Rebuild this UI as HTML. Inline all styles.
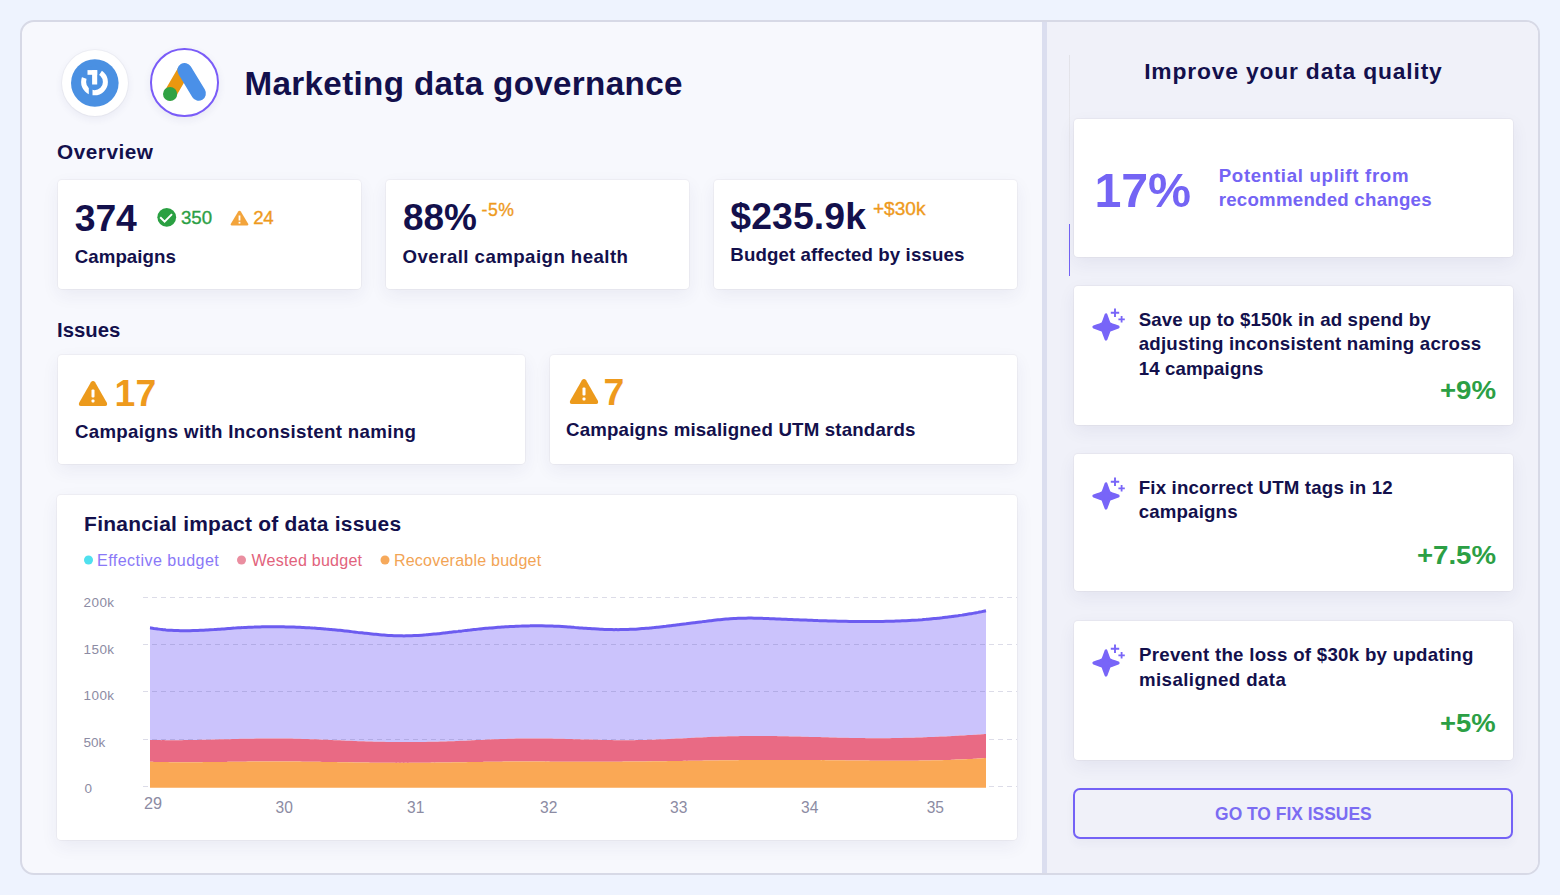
<!DOCTYPE html>
<html><head><meta charset="utf-8"><style>
html,body{margin:0;padding:0;}
body{width:1560px;height:895px;background:#eef3fe;position:relative;overflow:hidden;font-family:"Liberation Sans",sans-serif;}
.abs{position:absolute;}
.t{position:absolute;line-height:1;white-space:nowrap;}
.card{position:absolute;background:#fff;border-radius:4px;box-shadow:0 0 0 1px rgba(90,80,60,0.045),0 6px 18px rgba(40,40,110,0.065);}
</style></head><body>
<div class="abs" style="left:20px;top:20px;width:1516px;height:851px;border:2px solid #d7d9e6;border-radius:14px;background:#f7f8fd;overflow:hidden">
  <div class="abs" style="left:1025px;top:0;width:491px;height:851px;background:#f0f1f9"></div>
  <div class="abs" style="left:1020.4px;top:0;width:4.4px;height:851px;background:#dbdeef"></div>
</div>
<!-- logos -->
<div class="abs" style="left:62px;top:50px;width:66px;height:66px;border-radius:50%;background:#fff;box-shadow:0 0 0 1px rgba(0,0,0,0.03),0 3px 8px rgba(40,40,110,0.07)"></div>
<svg class="abs" style="left:71px;top:59px" width="48" height="48" viewBox="0 0 48 48">
  <circle cx="23.8" cy="24" r="23.8" fill="#4a90e2"/>
  <circle cx="23.5" cy="22.9" r="10.9" fill="none" stroke="#fff" stroke-width="5"/>
  <path d="M23.5,22.8 L8.46,17.33 A16,16 0 0 1 32.45,9.54 Z" fill="#4a90e2"/>
  <rect x="17.8" y="24" width="3.7" height="16" fill="#4a90e2"/>
  <rect x="16.5" y="11.1" width="9.7" height="4.7" fill="#fff"/>
  <rect x="21.1" y="11.1" width="5.1" height="14.4" fill="#fff"/>
</svg>
<div class="abs" style="left:150px;top:48px;width:64.5px;height:64.5px;border-radius:50%;background:#fff;border:2.3px solid #7a5cf8;box-shadow:0 3px 8px rgba(40,40,110,0.07)"></div>
<svg class="abs" style="left:150px;top:48px" width="69" height="69" viewBox="0 0 69 69">
  <line x1="33.5" y1="23" x2="20.1" y2="46" stroke="#ea9710" stroke-width="12.5" stroke-linecap="round"/>
  <line x1="34.6" y1="22.3" x2="48.6" y2="45.4" stroke="#4a90e8" stroke-width="14.6" stroke-linecap="round"/>
  <circle cx="20.1" cy="46" r="7.1" fill="#30a243"/>
</svg>
<!-- overview cards -->
<div class="card" style="left:58px;top:180px;width:303px;height:109px"></div>
<div class="card" style="left:386px;top:180px;width:303px;height:109px"></div>
<div class="card" style="left:714px;top:180px;width:303px;height:109px"></div>
<svg class="abs" style="left:156px;top:207px" width="21" height="21" viewBox="0 0 21 21">
  <circle cx="10.75" cy="10.3" r="9.4" fill="#2aa042"/>
  <path d="M4.2,10.2 L8.6,14.6 L16,7.1" fill="none" stroke="#fff" stroke-width="2"/>
</svg>
<svg class="abs" style="left:230px;top:210px" width="19" height="16" viewBox="0 0 19 16">
  <path d="M9.5,0.8 Q10.3,0.8 10.8,1.6 L18.3,14 Q18.7,15.3 17.4,15.5 L1.6,15.5 Q0.3,15.3 0.7,14 L8.2,1.6 Q8.7,0.8 9.5,0.8Z" fill="#f3a43b"/>
  <rect x="8.6" y="5.5" width="1.8" height="5" fill="#fff"/><rect x="8.6" y="11.8" width="1.8" height="1.8" fill="#fff"/>
</svg>
<!-- issue cards -->
<div class="card" style="left:58px;top:355px;width:467px;height:109px"></div>
<div class="card" style="left:550px;top:355px;width:467px;height:109px"></div>
<svg class="abs" style="left:78px;top:380px" width="30" height="27" viewBox="0 0 30 27">
  <path d="M15,1 Q16.3,1 17.1,2.3 L29,23 Q29.6,25.8 27.2,26 L2.8,26 Q0.4,25.8 1,23 L12.9,2.3 Q13.7,1 15,1Z" fill="#ec9a1c"/>
  <rect x="13.5" y="9.5" width="3" height="8" rx="1" fill="#fff"/><rect x="13.5" y="19.5" width="3" height="3" rx="1" fill="#fff"/>
</svg>
<svg class="abs" style="left:569px;top:378px" width="30" height="27" viewBox="0 0 30 27">
  <path d="M15,1 Q16.3,1 17.1,2.3 L29,23 Q29.6,25.8 27.2,26 L2.8,26 Q0.4,25.8 1,23 L12.9,2.3 Q13.7,1 15,1Z" fill="#ec9a1c"/>
  <rect x="13.5" y="9.5" width="3" height="8" rx="1" fill="#fff"/><rect x="13.5" y="19.5" width="3" height="3" rx="1" fill="#fff"/>
</svg>
<!-- chart card -->
<div class="card" style="left:57px;top:495px;width:960px;height:345px"></div>
<svg class="abs" style="left:0;top:0" width="1560" height="895" viewBox="0 0 1560 895">
  <circle cx="88.5" cy="560" r="4.5" fill="#4fe0ee"/>
  <circle cx="241.5" cy="560" r="4.5" fill="#ea8ea0"/>
  <circle cx="385" cy="560" r="4.5" fill="#f6a95b"/>
  <path d="M150.0,627.73 C150.7,627.8 152.7,628.2 154.0,628.43 C155.3,628.6 156.7,628.8 158.0,629.03 C159.3,629.2 160.7,629.4 162.0,629.52 C163.3,629.7 164.7,629.8 166.0,629.92 C167.3,630.0 168.7,630.1 170.0,630.23 C171.3,630.3 172.7,630.4 174.0,630.46 C175.3,630.5 176.7,630.6 178.0,630.61 C179.3,630.6 180.7,630.7 182.0,630.7 C183.3,630.7 184.7,630.7 186.0,630.71 C187.3,630.7 188.7,630.7 190.0,630.67 C191.3,630.6 192.7,630.6 194.0,630.58 C195.3,630.5 196.7,630.5 198.0,630.44 C199.3,630.4 200.7,630.3 202.0,630.26 C203.3,630.2 204.7,630.1 206.0,630.05 C207.3,630.0 208.7,629.9 210.0,629.8 C211.3,629.7 212.7,629.6 214.0,629.54 C215.3,629.4 216.7,629.4 218.0,629.26 C219.3,629.2 220.7,629.1 222.0,628.98 C223.3,628.9 224.7,628.8 226.0,628.69 C227.3,628.6 228.7,628.5 230.0,628.4 C231.3,628.3 232.7,628.2 234.0,628.12 C235.3,628.0 236.7,627.9 238.0,627.86 C239.3,627.8 240.7,627.7 242.0,627.62 C243.3,627.5 244.7,627.5 246.0,627.41 C247.3,627.3 248.7,627.3 250.0,627.23 C251.3,627.2 252.7,627.1 254.0,627.07 C255.3,627.0 256.7,627.0 258.0,626.95 C259.3,626.9 260.7,626.9 262.0,626.86 C263.3,626.8 264.7,626.8 266.0,626.79 C267.3,626.8 268.7,626.8 270.0,626.75 C271.3,626.7 272.7,626.7 274.0,626.74 C275.3,626.7 276.7,626.7 278.0,626.76 C279.3,626.8 280.7,626.8 282.0,626.81 C283.3,626.8 284.7,626.9 286.0,626.88 C287.3,626.9 288.7,626.9 290.0,626.98 C291.3,627.0 292.7,627.1 294.0,627.11 C295.3,627.2 296.7,627.2 298.0,627.26 C299.3,627.3 300.7,627.4 302.0,627.44 C303.3,627.5 304.7,627.6 306.0,627.64 C307.3,627.7 308.7,627.8 310.0,627.87 C311.3,628.0 312.7,628.0 314.0,628.12 C315.3,628.2 316.7,628.3 318.0,628.4 C319.3,628.5 320.7,628.6 322.0,628.7 C323.3,628.8 324.7,628.9 326.0,629.03 C327.3,629.1 328.7,629.3 330.0,629.38 C331.3,629.5 332.7,629.6 334.0,629.75 C335.3,629.9 336.7,630.0 338.0,630.14 C339.3,630.3 340.7,630.4 342.0,630.56 C343.3,630.7 344.7,630.9 346.0,631.0 C347.3,631.1 348.7,631.3 350.0,631.45 C351.3,631.6 352.7,631.8 354.0,631.92 C355.3,632.1 356.7,632.2 358.0,632.39 C359.3,632.5 360.7,632.7 362.0,632.85 C363.3,633.0 364.7,633.2 366.0,633.3 C367.3,633.4 368.7,633.6 370.0,633.74 C371.3,633.9 372.7,634.0 374.0,634.16 C375.3,634.3 376.7,634.4 378.0,634.54 C379.3,634.7 380.7,634.8 382.0,634.89 C383.3,635.0 384.7,635.1 386.0,635.19 C387.3,635.3 388.7,635.4 390.0,635.45 C391.3,635.5 392.7,635.6 394.0,635.64 C395.3,635.7 396.7,635.7 398.0,635.78 C399.3,635.8 400.7,635.8 402.0,635.85 C403.3,635.9 404.7,635.9 406.0,635.84 C407.3,635.8 408.7,635.8 410.0,635.76 C411.3,635.7 412.7,635.7 414.0,635.61 C415.3,635.6 416.7,635.5 418.0,635.41 C419.3,635.3 420.7,635.2 422.0,635.15 C423.3,635.1 424.7,634.9 426.0,634.84 C427.3,634.7 428.7,634.6 430.0,634.5 C431.3,634.4 432.7,634.2 434.0,634.11 C435.3,634.0 436.7,633.8 438.0,633.7 C439.3,633.6 440.7,633.4 442.0,633.26 C443.3,633.1 444.7,633.0 446.0,632.8 C447.3,632.6 448.7,632.5 450.0,632.33 C451.3,632.2 452.7,632.0 454.0,631.85 C455.3,631.7 456.7,631.5 458.0,631.37 C459.3,631.2 460.7,631.0 462.0,630.89 C463.3,630.7 464.7,630.6 466.0,630.43 C467.3,630.3 468.7,630.1 470.0,629.98 C471.3,629.8 472.7,629.7 474.0,629.54 C475.3,629.4 476.7,629.3 478.0,629.13 C479.3,629.0 480.7,628.9 482.0,628.73 C483.3,628.6 484.7,628.5 486.0,628.35 C487.3,628.2 488.7,628.1 490.0,628.0 C491.3,627.9 492.7,627.8 494.0,627.67 C495.3,627.6 496.7,627.5 498.0,627.36 C499.3,627.3 500.7,627.2 502.0,627.07 C503.3,627.0 504.7,626.9 506.0,626.81 C507.3,626.7 508.7,626.7 510.0,626.58 C511.3,626.5 512.7,626.4 514.0,626.38 C515.3,626.3 516.7,626.3 518.0,626.21 C519.3,626.2 520.7,626.1 522.0,626.06 C523.3,626.0 524.7,626.0 526.0,625.95 C527.3,625.9 528.7,625.9 530.0,625.87 C531.3,625.8 532.7,625.8 534.0,625.82 C535.3,625.8 536.7,625.8 538.0,625.81 C539.3,625.8 540.7,625.8 542.0,625.84 C543.3,625.9 544.7,625.9 546.0,625.9 C547.3,625.9 548.7,626.0 550.0,626.0 C551.3,626.0 552.7,626.1 554.0,626.14 C555.3,626.2 556.7,626.3 558.0,626.32 C559.3,626.4 560.7,626.5 562.0,626.54 C563.3,626.6 564.7,626.7 566.0,626.79 C567.3,626.9 568.7,627.0 570.0,627.07 C571.3,627.2 572.7,627.3 574.0,627.37 C575.3,627.5 576.7,627.6 578.0,627.67 C579.3,627.8 580.7,627.9 582.0,627.98 C583.3,628.1 584.7,628.2 586.0,628.29 C587.3,628.4 588.7,628.5 590.0,628.58 C591.3,628.7 592.7,628.8 594.0,628.85 C595.3,628.9 596.7,629.0 598.0,629.09 C599.3,629.2 600.7,629.2 602.0,629.3 C603.3,629.4 604.7,629.4 606.0,629.46 C607.3,629.5 608.7,629.5 610.0,629.57 C611.3,629.6 612.7,629.6 614.0,629.63 C615.3,629.6 616.7,629.6 618.0,629.63 C619.3,629.6 620.7,629.6 622.0,629.58 C623.3,629.6 624.7,629.5 626.0,629.48 C627.3,629.4 628.7,629.4 630.0,629.33 C631.3,629.3 632.7,629.2 634.0,629.13 C635.3,629.1 636.7,629.0 638.0,628.89 C639.3,628.8 640.7,628.7 642.0,628.61 C643.3,628.5 644.7,628.4 646.0,628.3 C647.3,628.2 648.7,628.1 650.0,627.95 C651.3,627.8 652.7,627.7 654.0,627.57 C655.3,627.4 656.7,627.3 658.0,627.17 C659.3,627.0 660.7,626.9 662.0,626.73 C663.3,626.6 664.7,626.4 666.0,626.28 C667.3,626.1 668.7,626.0 670.0,625.8 C671.3,625.6 672.7,625.5 674.0,625.31 C675.3,625.1 676.7,625.0 678.0,624.81 C679.3,624.6 680.7,624.5 682.0,624.29 C683.3,624.1 684.7,623.9 686.0,623.76 C687.3,623.6 688.7,623.4 690.0,623.23 C691.3,623.1 692.7,622.9 694.0,622.71 C695.3,622.5 696.7,622.4 698.0,622.19 C699.3,622.0 700.7,621.8 702.0,621.68 C703.3,621.5 704.7,621.3 706.0,621.18 C707.3,621.0 708.7,620.9 710.0,620.71 C711.3,620.6 712.7,620.4 714.0,620.26 C715.3,620.1 716.7,620.0 718.0,619.84 C719.3,619.7 720.7,619.6 722.0,619.45 C723.3,619.3 724.7,619.2 726.0,619.11 C727.3,619.0 728.7,618.9 730.0,618.81 C731.3,618.7 732.7,618.6 734.0,618.55 C735.3,618.5 736.7,618.4 738.0,618.35 C739.3,618.3 740.7,618.2 742.0,618.21 C743.3,618.2 744.7,618.1 746.0,618.13 C747.3,618.1 748.7,618.1 750.0,618.12 C751.3,618.1 752.7,618.1 754.0,618.15 C755.3,618.2 756.7,618.2 758.0,618.23 C759.3,618.3 760.7,618.3 762.0,618.34 C763.3,618.4 764.7,618.4 766.0,618.48 C767.3,618.5 768.7,618.6 770.0,618.64 C771.3,618.7 772.7,618.7 774.0,618.8 C775.3,618.9 776.7,618.9 778.0,618.97 C779.3,619.0 780.7,619.1 782.0,619.13 C783.3,619.2 784.7,619.2 786.0,619.3 C787.3,619.4 788.7,619.4 790.0,619.47 C791.3,619.5 792.7,619.6 794.0,619.63 C795.3,619.7 796.7,619.7 798.0,619.8 C799.3,619.9 800.7,619.9 802.0,619.96 C803.3,620.0 804.7,620.1 806.0,620.12 C807.3,620.2 808.7,620.2 810.0,620.27 C811.3,620.3 812.7,620.4 814.0,620.42 C815.3,620.5 816.7,620.5 818.0,620.57 C819.3,620.6 820.7,620.7 822.0,620.7 C823.3,620.7 824.7,620.8 826.0,620.83 C827.3,620.9 828.7,620.9 830.0,620.96 C831.3,621.0 832.7,621.0 834.0,621.07 C835.3,621.1 836.7,621.1 838.0,621.17 C839.3,621.2 840.7,621.2 842.0,621.26 C843.3,621.3 844.7,621.3 846.0,621.34 C847.3,621.4 848.7,621.4 850.0,621.41 C851.3,621.4 852.7,621.5 854.0,621.47 C855.3,621.5 856.7,621.5 858.0,621.51 C859.3,621.5 860.7,621.5 862.0,621.53 C863.3,621.5 864.7,621.5 866.0,621.54 C867.3,621.5 868.7,621.5 870.0,621.54 C871.3,621.5 872.7,621.5 874.0,621.52 C875.3,621.5 876.7,621.5 878.0,621.48 C879.3,621.5 880.7,621.4 882.0,621.42 C883.3,621.4 884.7,621.4 886.0,621.34 C887.3,621.3 888.7,621.3 890.0,621.24 C891.3,621.2 892.7,621.2 894.0,621.13 C895.3,621.1 896.7,621.0 898.0,620.98 C899.3,620.9 900.7,620.9 902.0,620.82 C903.3,620.8 904.7,620.7 906.0,620.63 C907.3,620.6 908.7,620.5 910.0,620.42 C911.3,620.3 912.7,620.3 914.0,620.19 C915.3,620.1 916.7,620.0 918.0,619.93 C919.3,619.8 920.7,619.7 922.0,619.64 C923.3,619.5 924.7,619.4 926.0,619.32 C927.3,619.2 928.7,619.1 930.0,618.98 C931.3,618.9 932.7,618.7 934.0,618.61 C935.3,618.5 936.7,618.3 938.0,618.2 C939.3,618.1 940.7,617.9 942.0,617.77 C943.3,617.6 944.7,617.5 946.0,617.31 C947.3,617.1 948.7,617.0 950.0,616.81 C951.3,616.6 952.7,616.5 954.0,616.28 C955.3,616.1 956.7,615.9 958.0,615.72 C959.3,615.5 960.7,615.3 962.0,615.12 C963.3,614.9 964.7,614.7 966.0,614.49 C967.3,614.3 968.7,614.1 970.0,613.82 C971.3,613.6 972.7,613.4 974.0,613.11 C975.3,612.9 976.7,612.6 978.0,612.37 C979.3,612.1 980.7,611.9 982.0,611.59 C983.3,611.3 985.3,610.9 986.0,610.76 L986.0,734.05 C985.3,734.1 983.3,734.2 982.0,734.31 C980.7,734.4 979.3,734.5 978.0,734.57 C976.7,734.7 975.3,734.7 974.0,734.82 C972.7,734.9 971.3,735.0 970.0,735.06 C968.7,735.1 967.3,735.2 966.0,735.3 C964.7,735.4 963.3,735.5 962.0,735.53 C960.7,735.6 959.3,735.7 958.0,735.76 C956.7,735.8 955.3,735.9 954.0,735.97 C952.7,736.0 951.3,736.1 950.0,736.18 C948.7,736.2 947.3,736.3 946.0,736.38 C944.7,736.4 943.3,736.5 942.0,736.57 C940.7,736.6 939.3,736.7 938.0,736.76 C936.7,736.8 935.3,736.9 934.0,736.93 C932.7,737.0 931.3,737.0 930.0,737.09 C928.7,737.1 927.3,737.2 926.0,737.25 C924.7,737.3 923.3,737.3 922.0,737.39 C920.7,737.4 919.3,737.5 918.0,737.53 C916.7,737.6 915.3,737.6 914.0,737.65 C912.7,737.7 911.3,737.7 910.0,737.76 C908.7,737.8 907.3,737.8 906.0,737.86 C904.7,737.9 903.3,737.9 902.0,737.95 C900.7,738.0 899.3,738.0 898.0,738.03 C896.7,738.1 895.3,738.1 894.0,738.09 C892.7,738.1 891.3,738.1 890.0,738.14 C888.7,738.2 887.3,738.2 886.0,738.18 C884.7,738.2 883.3,738.2 882.0,738.2 C880.7,738.2 879.3,738.2 878.0,738.21 C876.7,738.2 875.3,738.2 874.0,738.21 C872.7,738.2 871.3,738.2 870.0,738.19 C868.7,738.2 867.3,738.2 866.0,738.16 C864.7,738.1 863.3,738.1 862.0,738.11 C860.7,738.1 859.3,738.1 858.0,738.06 C856.7,738.0 855.3,738.0 854.0,737.99 C852.7,738.0 851.3,737.9 850.0,737.92 C848.7,737.9 847.3,737.9 846.0,737.83 C844.7,737.8 843.3,737.8 842.0,737.74 C840.7,737.7 839.3,737.7 838.0,737.65 C836.7,737.6 835.3,737.6 834.0,737.55 C832.7,737.5 831.3,737.5 830.0,737.44 C828.7,737.4 827.3,737.4 826.0,737.33 C824.7,737.3 823.3,737.3 822.0,737.22 C820.7,737.2 819.3,737.1 818.0,737.11 C816.7,737.1 815.3,737.0 814.0,737.0 C812.7,737.0 811.3,736.9 810.0,736.89 C808.7,736.9 807.3,736.8 806.0,736.78 C804.7,736.7 803.3,736.7 802.0,736.68 C800.7,736.6 799.3,736.6 798.0,736.57 C796.7,736.5 795.3,736.5 794.0,736.48 C792.7,736.5 791.3,736.4 790.0,736.39 C788.7,736.4 787.3,736.3 786.0,736.31 C784.7,736.3 783.3,736.3 782.0,736.23 C780.7,736.2 779.3,736.2 778.0,736.17 C776.7,736.1 775.3,736.1 774.0,736.11 C772.7,736.1 771.3,736.1 770.0,736.06 C768.7,736.0 767.3,736.0 766.0,736.03 C764.7,736.0 763.3,736.0 762.0,736.0 C760.7,736.0 759.3,736.0 758.0,735.99 C756.7,736.0 755.3,736.0 754.0,735.99 C752.7,736.0 751.3,736.0 750.0,736.01 C748.7,736.0 747.3,736.0 746.0,736.04 C744.7,736.1 743.3,736.1 742.0,736.08 C740.7,736.1 739.3,736.1 738.0,736.14 C736.7,736.2 735.3,736.2 734.0,736.22 C732.7,736.2 731.3,736.3 730.0,736.32 C728.7,736.4 727.3,736.4 726.0,736.43 C724.7,736.5 723.3,736.5 722.0,736.56 C720.7,736.6 719.3,736.7 718.0,736.71 C716.7,736.8 715.3,736.8 714.0,736.87 C712.7,736.9 711.3,737.0 710.0,737.04 C708.7,737.1 707.3,737.2 706.0,737.22 C704.7,737.3 703.3,737.3 702.0,737.41 C700.7,737.5 699.3,737.5 698.0,737.6 C696.7,737.7 695.3,737.7 694.0,737.8 C692.7,737.9 691.3,737.9 690.0,738.01 C688.7,738.1 687.3,738.1 686.0,738.21 C684.7,738.3 683.3,738.3 682.0,738.41 C680.7,738.5 679.3,738.5 678.0,738.61 C676.7,738.7 675.3,738.7 674.0,738.81 C672.7,738.9 671.3,738.9 670.0,739.0 C668.7,739.1 667.3,739.1 666.0,739.18 C664.7,739.2 663.3,739.3 662.0,739.36 C660.7,739.4 659.3,739.5 658.0,739.52 C656.7,739.6 655.3,739.6 654.0,739.67 C652.7,739.7 651.3,739.8 650.0,739.8 C648.7,739.8 647.3,739.9 646.0,739.92 C644.7,740.0 643.3,740.0 642.0,740.03 C640.7,740.1 639.3,740.1 638.0,740.11 C636.7,740.1 635.3,740.2 634.0,740.17 C632.7,740.2 631.3,740.2 630.0,740.2 C628.7,740.2 627.3,740.2 626.0,740.22 C624.7,740.2 623.3,740.2 622.0,740.21 C620.7,740.2 619.3,740.2 618.0,740.18 C616.7,740.2 615.3,740.2 614.0,740.14 C612.7,740.1 611.3,740.1 610.0,740.08 C608.7,740.1 607.3,740.0 606.0,740.0 C604.7,740.0 603.3,739.9 602.0,739.92 C600.7,739.9 599.3,739.9 598.0,739.82 C596.7,739.8 595.3,739.8 594.0,739.72 C592.7,739.7 591.3,739.6 590.0,739.61 C588.7,739.6 587.3,739.5 586.0,739.49 C584.7,739.5 583.3,739.4 582.0,739.38 C580.7,739.3 579.3,739.3 578.0,739.26 C576.7,739.2 575.3,739.2 574.0,739.15 C572.7,739.1 571.3,739.1 570.0,739.04 C568.7,739.0 567.3,739.0 566.0,738.93 C564.7,738.9 563.3,738.9 562.0,738.84 C560.7,738.8 559.3,738.8 558.0,738.74 C556.7,738.7 555.3,738.7 554.0,738.66 C552.7,738.6 551.3,738.6 550.0,738.59 C548.7,738.6 547.3,738.5 546.0,738.53 C544.7,738.5 543.3,738.5 542.0,738.49 C540.7,738.5 539.3,738.5 538.0,738.46 C536.7,738.5 535.3,738.5 534.0,738.45 C532.7,738.4 531.3,738.4 530.0,738.45 C528.7,738.5 527.3,738.5 526.0,738.48 C524.7,738.5 523.3,738.5 522.0,738.52 C520.7,738.5 519.3,738.6 518.0,738.59 C516.7,738.6 515.3,738.6 514.0,738.68 C512.7,738.7 511.3,738.7 510.0,738.78 C508.7,738.8 507.3,738.9 506.0,738.91 C504.7,739.0 503.3,739.0 502.0,739.04 C500.7,739.1 499.3,739.1 498.0,739.19 C496.7,739.2 495.3,739.3 494.0,739.36 C492.7,739.4 491.3,739.5 490.0,739.53 C488.7,739.6 487.3,739.6 486.0,739.7 C484.7,739.8 483.3,739.8 482.0,739.88 C480.7,739.9 479.3,740.0 478.0,740.07 C476.7,740.1 475.3,740.2 474.0,740.26 C472.7,740.3 471.3,740.4 470.0,740.44 C468.7,740.5 467.3,740.6 466.0,740.63 C464.7,740.7 463.3,740.8 462.0,740.81 C460.7,740.9 459.3,740.9 458.0,740.98 C456.7,741.0 455.3,741.1 454.0,741.14 C452.7,741.2 451.3,741.2 450.0,741.3 C448.7,741.3 447.3,741.4 446.0,741.44 C444.7,741.5 443.3,741.5 442.0,741.57 C440.7,741.6 439.3,741.6 438.0,741.68 C436.7,741.7 435.3,741.7 434.0,741.78 C432.7,741.8 431.3,741.8 430.0,741.87 C428.7,741.9 427.3,741.9 426.0,741.94 C424.7,742.0 423.3,742.0 422.0,742.0 C420.7,742.0 419.3,742.0 418.0,742.04 C416.7,742.1 415.3,742.1 414.0,742.07 C412.7,742.1 411.3,742.1 410.0,742.09 C408.7,742.1 407.3,742.1 406.0,742.09 C404.7,742.1 403.3,742.1 402.0,742.08 C400.7,742.1 399.3,742.1 398.0,742.06 C396.7,742.1 395.3,742.0 394.0,742.03 C392.7,742.0 391.3,742.0 390.0,741.98 C388.7,742.0 387.3,741.9 386.0,741.92 C384.7,741.9 383.3,741.9 382.0,741.85 C380.7,741.8 379.3,741.8 378.0,741.77 C376.7,741.7 375.3,741.7 374.0,741.67 C372.7,741.6 371.3,741.6 370.0,741.56 C368.7,741.5 367.3,741.5 366.0,741.45 C364.7,741.4 363.3,741.4 362.0,741.32 C360.7,741.3 359.3,741.2 358.0,741.18 C356.7,741.1 355.3,741.1 354.0,741.03 C352.7,741.0 351.3,740.9 350.0,740.87 C348.7,740.8 347.3,740.8 346.0,740.7 C344.7,740.6 343.3,740.6 342.0,740.53 C340.7,740.5 339.3,740.4 338.0,740.36 C336.7,740.3 335.3,740.2 334.0,740.18 C332.7,740.1 331.3,740.1 330.0,740.01 C328.7,740.0 327.3,739.9 326.0,739.83 C324.7,739.8 323.3,739.7 322.0,739.66 C320.7,739.6 319.3,739.6 318.0,739.5 C316.7,739.4 315.3,739.4 314.0,739.34 C312.7,739.3 311.3,739.2 310.0,739.19 C308.7,739.1 307.3,739.1 306.0,739.05 C304.7,739.0 303.3,739.0 302.0,738.92 C300.7,738.9 299.3,738.8 298.0,738.8 C296.7,738.8 295.3,738.7 294.0,738.7 C292.7,738.7 291.3,738.6 290.0,738.62 C288.7,738.6 287.3,738.6 286.0,738.55 C284.7,738.5 283.3,738.5 282.0,738.51 C280.7,738.5 279.3,738.5 278.0,738.48 C276.7,738.5 275.3,738.5 274.0,738.47 C272.7,738.5 271.3,738.5 270.0,738.48 C268.7,738.5 267.3,738.5 266.0,738.5 C264.7,738.5 263.3,738.5 262.0,738.53 C260.7,738.5 259.3,738.6 258.0,738.58 C256.7,738.6 255.3,738.6 254.0,738.64 C252.7,738.7 251.3,738.7 250.0,738.71 C248.7,738.7 247.3,738.8 246.0,738.78 C244.7,738.8 243.3,738.8 242.0,738.87 C240.7,738.9 239.3,738.9 238.0,738.96 C236.7,739.0 235.3,739.0 234.0,739.06 C232.7,739.1 231.3,739.1 230.0,739.15 C228.7,739.2 227.3,739.2 226.0,739.25 C224.7,739.3 223.3,739.3 222.0,739.36 C220.7,739.4 219.3,739.4 218.0,739.46 C216.7,739.5 215.3,739.5 214.0,739.56 C212.7,739.6 211.3,739.6 210.0,739.65 C208.7,739.7 207.3,739.7 206.0,739.75 C204.7,739.8 203.3,739.8 202.0,739.83 C200.7,739.9 199.3,739.9 198.0,739.92 C196.7,739.9 195.3,740.0 194.0,739.99 C192.7,740.0 191.3,740.0 190.0,740.05 C188.7,740.1 187.3,740.1 186.0,740.1 C184.7,740.1 183.3,740.1 182.0,740.15 C180.7,740.2 179.3,740.2 178.0,740.17 C176.7,740.2 175.3,740.2 174.0,740.19 C172.7,740.2 171.3,740.2 170.0,740.18 C168.7,740.2 167.3,740.2 166.0,740.17 C164.7,740.2 163.3,740.1 162.0,740.13 C160.7,740.1 159.3,740.1 158.0,740.07 C156.7,740.0 155.3,740.0 154.0,739.99 C152.7,740.0 150.7,739.9 150.0,739.89 Z" fill="#cbc3fc"/>
  <line x1="143" y1="597.5" x2="1017" y2="597.5" stroke="rgba(80,80,140,0.2)" stroke-width="1" stroke-dasharray="5 4"/><line x1="143" y1="644.5" x2="1017" y2="644.5" stroke="rgba(80,80,140,0.2)" stroke-width="1" stroke-dasharray="5 4"/><line x1="143" y1="691.5" x2="1017" y2="691.5" stroke="rgba(80,80,140,0.2)" stroke-width="1" stroke-dasharray="5 4"/><line x1="143" y1="739.5" x2="1017" y2="739.5" stroke="rgba(80,80,140,0.2)" stroke-width="1" stroke-dasharray="5 4"/><line x1="143" y1="786.5" x2="1017" y2="786.5" stroke="rgba(80,80,140,0.2)" stroke-width="1" stroke-dasharray="5 4"/>
  <path d="M150.0,739.89 C150.7,739.9 152.7,740.0 154.0,739.99 C155.3,740.0 156.7,740.0 158.0,740.07 C159.3,740.1 160.7,740.1 162.0,740.13 C163.3,740.1 164.7,740.2 166.0,740.17 C167.3,740.2 168.7,740.2 170.0,740.18 C171.3,740.2 172.7,740.2 174.0,740.19 C175.3,740.2 176.7,740.2 178.0,740.17 C179.3,740.2 180.7,740.2 182.0,740.15 C183.3,740.1 184.7,740.1 186.0,740.1 C187.3,740.1 188.7,740.1 190.0,740.05 C191.3,740.0 192.7,740.0 194.0,739.99 C195.3,740.0 196.7,739.9 198.0,739.92 C199.3,739.9 200.7,739.9 202.0,739.83 C203.3,739.8 204.7,739.8 206.0,739.75 C207.3,739.7 208.7,739.7 210.0,739.65 C211.3,739.6 212.7,739.6 214.0,739.56 C215.3,739.5 216.7,739.5 218.0,739.46 C219.3,739.4 220.7,739.4 222.0,739.36 C223.3,739.3 224.7,739.3 226.0,739.25 C227.3,739.2 228.7,739.2 230.0,739.15 C231.3,739.1 232.7,739.1 234.0,739.06 C235.3,739.0 236.7,739.0 238.0,738.96 C239.3,738.9 240.7,738.9 242.0,738.87 C243.3,738.8 244.7,738.8 246.0,738.78 C247.3,738.8 248.7,738.7 250.0,738.71 C251.3,738.7 252.7,738.7 254.0,738.64 C255.3,738.6 256.7,738.6 258.0,738.58 C259.3,738.6 260.7,738.5 262.0,738.53 C263.3,738.5 264.7,738.5 266.0,738.5 C267.3,738.5 268.7,738.5 270.0,738.48 C271.3,738.5 272.7,738.5 274.0,738.47 C275.3,738.5 276.7,738.5 278.0,738.48 C279.3,738.5 280.7,738.5 282.0,738.51 C283.3,738.5 284.7,738.5 286.0,738.55 C287.3,738.6 288.7,738.6 290.0,738.62 C291.3,738.6 292.7,738.7 294.0,738.7 C295.3,738.7 296.7,738.8 298.0,738.8 C299.3,738.8 300.7,738.9 302.0,738.92 C303.3,739.0 304.7,739.0 306.0,739.05 C307.3,739.1 308.7,739.1 310.0,739.19 C311.3,739.2 312.7,739.3 314.0,739.34 C315.3,739.4 316.7,739.4 318.0,739.5 C319.3,739.6 320.7,739.6 322.0,739.66 C323.3,739.7 324.7,739.8 326.0,739.83 C327.3,739.9 328.7,740.0 330.0,740.01 C331.3,740.1 332.7,740.1 334.0,740.18 C335.3,740.2 336.7,740.3 338.0,740.36 C339.3,740.4 340.7,740.5 342.0,740.53 C343.3,740.6 344.7,740.6 346.0,740.7 C347.3,740.8 348.7,740.8 350.0,740.87 C351.3,740.9 352.7,741.0 354.0,741.03 C355.3,741.1 356.7,741.1 358.0,741.18 C359.3,741.2 360.7,741.3 362.0,741.32 C363.3,741.4 364.7,741.4 366.0,741.45 C367.3,741.5 368.7,741.5 370.0,741.56 C371.3,741.6 372.7,741.6 374.0,741.67 C375.3,741.7 376.7,741.7 378.0,741.77 C379.3,741.8 380.7,741.8 382.0,741.85 C383.3,741.9 384.7,741.9 386.0,741.92 C387.3,741.9 388.7,742.0 390.0,741.98 C391.3,742.0 392.7,742.0 394.0,742.03 C395.3,742.0 396.7,742.1 398.0,742.06 C399.3,742.1 400.7,742.1 402.0,742.08 C403.3,742.1 404.7,742.1 406.0,742.09 C407.3,742.1 408.7,742.1 410.0,742.09 C411.3,742.1 412.7,742.1 414.0,742.07 C415.3,742.1 416.7,742.1 418.0,742.04 C419.3,742.0 420.7,742.0 422.0,742.0 C423.3,742.0 424.7,742.0 426.0,741.94 C427.3,741.9 428.7,741.9 430.0,741.87 C431.3,741.8 432.7,741.8 434.0,741.78 C435.3,741.7 436.7,741.7 438.0,741.68 C439.3,741.6 440.7,741.6 442.0,741.57 C443.3,741.5 444.7,741.5 446.0,741.44 C447.3,741.4 448.7,741.3 450.0,741.3 C451.3,741.2 452.7,741.2 454.0,741.14 C455.3,741.1 456.7,741.0 458.0,740.98 C459.3,740.9 460.7,740.9 462.0,740.81 C463.3,740.8 464.7,740.7 466.0,740.63 C467.3,740.6 468.7,740.5 470.0,740.44 C471.3,740.4 472.7,740.3 474.0,740.26 C475.3,740.2 476.7,740.1 478.0,740.07 C479.3,740.0 480.7,739.9 482.0,739.88 C483.3,739.8 484.7,739.8 486.0,739.7 C487.3,739.6 488.7,739.6 490.0,739.53 C491.3,739.5 492.7,739.4 494.0,739.36 C495.3,739.3 496.7,739.2 498.0,739.19 C499.3,739.1 500.7,739.1 502.0,739.04 C503.3,739.0 504.7,739.0 506.0,738.91 C507.3,738.9 508.7,738.8 510.0,738.78 C511.3,738.7 512.7,738.7 514.0,738.68 C515.3,738.6 516.7,738.6 518.0,738.59 C519.3,738.6 520.7,738.5 522.0,738.52 C523.3,738.5 524.7,738.5 526.0,738.48 C527.3,738.5 528.7,738.5 530.0,738.45 C531.3,738.4 532.7,738.4 534.0,738.45 C535.3,738.5 536.7,738.5 538.0,738.46 C539.3,738.5 540.7,738.5 542.0,738.49 C543.3,738.5 544.7,738.5 546.0,738.53 C547.3,738.5 548.7,738.6 550.0,738.59 C551.3,738.6 552.7,738.6 554.0,738.66 C555.3,738.7 556.7,738.7 558.0,738.74 C559.3,738.8 560.7,738.8 562.0,738.84 C563.3,738.9 564.7,738.9 566.0,738.93 C567.3,739.0 568.7,739.0 570.0,739.04 C571.3,739.1 572.7,739.1 574.0,739.15 C575.3,739.2 576.7,739.2 578.0,739.26 C579.3,739.3 580.7,739.3 582.0,739.38 C583.3,739.4 584.7,739.5 586.0,739.49 C587.3,739.5 588.7,739.6 590.0,739.61 C591.3,739.6 592.7,739.7 594.0,739.72 C595.3,739.8 596.7,739.8 598.0,739.82 C599.3,739.9 600.7,739.9 602.0,739.92 C603.3,739.9 604.7,740.0 606.0,740.0 C607.3,740.0 608.7,740.1 610.0,740.08 C611.3,740.1 612.7,740.1 614.0,740.14 C615.3,740.2 616.7,740.2 618.0,740.18 C619.3,740.2 620.7,740.2 622.0,740.21 C623.3,740.2 624.7,740.2 626.0,740.22 C627.3,740.2 628.7,740.2 630.0,740.2 C631.3,740.2 632.7,740.2 634.0,740.17 C635.3,740.2 636.7,740.1 638.0,740.11 C639.3,740.1 640.7,740.1 642.0,740.03 C643.3,740.0 644.7,740.0 646.0,739.92 C647.3,739.9 648.7,739.8 650.0,739.8 C651.3,739.8 652.7,739.7 654.0,739.67 C655.3,739.6 656.7,739.6 658.0,739.52 C659.3,739.5 660.7,739.4 662.0,739.36 C663.3,739.3 664.7,739.2 666.0,739.18 C667.3,739.1 668.7,739.1 670.0,739.0 C671.3,738.9 672.7,738.9 674.0,738.81 C675.3,738.7 676.7,738.7 678.0,738.61 C679.3,738.5 680.7,738.5 682.0,738.41 C683.3,738.3 684.7,738.3 686.0,738.21 C687.3,738.1 688.7,738.1 690.0,738.01 C691.3,737.9 692.7,737.9 694.0,737.8 C695.3,737.7 696.7,737.7 698.0,737.6 C699.3,737.5 700.7,737.5 702.0,737.41 C703.3,737.3 704.7,737.3 706.0,737.22 C707.3,737.2 708.7,737.1 710.0,737.04 C711.3,737.0 712.7,736.9 714.0,736.87 C715.3,736.8 716.7,736.8 718.0,736.71 C719.3,736.7 720.7,736.6 722.0,736.56 C723.3,736.5 724.7,736.5 726.0,736.43 C727.3,736.4 728.7,736.4 730.0,736.32 C731.3,736.3 732.7,736.2 734.0,736.22 C735.3,736.2 736.7,736.2 738.0,736.14 C739.3,736.1 740.7,736.1 742.0,736.08 C743.3,736.1 744.7,736.1 746.0,736.04 C747.3,736.0 748.7,736.0 750.0,736.01 C751.3,736.0 752.7,736.0 754.0,735.99 C755.3,736.0 756.7,736.0 758.0,735.99 C759.3,736.0 760.7,736.0 762.0,736.0 C763.3,736.0 764.7,736.0 766.0,736.03 C767.3,736.0 768.7,736.0 770.0,736.06 C771.3,736.1 772.7,736.1 774.0,736.11 C775.3,736.1 776.7,736.1 778.0,736.17 C779.3,736.2 780.7,736.2 782.0,736.23 C783.3,736.3 784.7,736.3 786.0,736.31 C787.3,736.3 788.7,736.4 790.0,736.39 C791.3,736.4 792.7,736.5 794.0,736.48 C795.3,736.5 796.7,736.5 798.0,736.57 C799.3,736.6 800.7,736.6 802.0,736.68 C803.3,736.7 804.7,736.7 806.0,736.78 C807.3,736.8 808.7,736.9 810.0,736.89 C811.3,736.9 812.7,737.0 814.0,737.0 C815.3,737.0 816.7,737.1 818.0,737.11 C819.3,737.1 820.7,737.2 822.0,737.22 C823.3,737.3 824.7,737.3 826.0,737.33 C827.3,737.4 828.7,737.4 830.0,737.44 C831.3,737.5 832.7,737.5 834.0,737.55 C835.3,737.6 836.7,737.6 838.0,737.65 C839.3,737.7 840.7,737.7 842.0,737.74 C843.3,737.8 844.7,737.8 846.0,737.83 C847.3,737.9 848.7,737.9 850.0,737.92 C851.3,737.9 852.7,738.0 854.0,737.99 C855.3,738.0 856.7,738.0 858.0,738.06 C859.3,738.1 860.7,738.1 862.0,738.11 C863.3,738.1 864.7,738.1 866.0,738.16 C867.3,738.2 868.7,738.2 870.0,738.19 C871.3,738.2 872.7,738.2 874.0,738.21 C875.3,738.2 876.7,738.2 878.0,738.21 C879.3,738.2 880.7,738.2 882.0,738.2 C883.3,738.2 884.7,738.2 886.0,738.18 C887.3,738.2 888.7,738.2 890.0,738.14 C891.3,738.1 892.7,738.1 894.0,738.09 C895.3,738.1 896.7,738.1 898.0,738.03 C899.3,738.0 900.7,738.0 902.0,737.95 C903.3,737.9 904.7,737.9 906.0,737.86 C907.3,737.8 908.7,737.8 910.0,737.76 C911.3,737.7 912.7,737.7 914.0,737.65 C915.3,737.6 916.7,737.6 918.0,737.53 C919.3,737.5 920.7,737.4 922.0,737.39 C923.3,737.3 924.7,737.3 926.0,737.25 C927.3,737.2 928.7,737.1 930.0,737.09 C931.3,737.0 932.7,737.0 934.0,736.93 C935.3,736.9 936.7,736.8 938.0,736.76 C939.3,736.7 940.7,736.6 942.0,736.57 C943.3,736.5 944.7,736.4 946.0,736.38 C947.3,736.3 948.7,736.2 950.0,736.18 C951.3,736.1 952.7,736.0 954.0,735.97 C955.3,735.9 956.7,735.8 958.0,735.76 C959.3,735.7 960.7,735.6 962.0,735.53 C963.3,735.5 964.7,735.4 966.0,735.3 C967.3,735.2 968.7,735.1 970.0,735.06 C971.3,735.0 972.7,734.9 974.0,734.82 C975.3,734.7 976.7,734.7 978.0,734.57 C979.3,734.5 980.7,734.4 982.0,734.31 C983.3,734.2 985.3,734.1 986.0,734.05 L986.0,758.04 C985.3,758.1 983.3,758.2 982.0,758.31 C980.7,758.4 979.3,758.5 978.0,758.57 C976.7,758.7 975.3,758.7 974.0,758.8 C972.7,758.9 971.3,759.0 970.0,759.03 C968.7,759.1 967.3,759.2 966.0,759.23 C964.7,759.3 963.3,759.4 962.0,759.42 C960.7,759.5 959.3,759.5 958.0,759.6 C956.7,759.7 955.3,759.7 954.0,759.76 C952.7,759.8 951.3,759.9 950.0,759.91 C948.7,760.0 947.3,760.0 946.0,760.04 C944.7,760.1 943.3,760.1 942.0,760.16 C940.7,760.2 939.3,760.2 938.0,760.27 C936.7,760.3 935.3,760.3 934.0,760.37 C932.7,760.4 931.3,760.4 930.0,760.45 C928.7,760.5 927.3,760.5 926.0,760.52 C924.7,760.5 923.3,760.6 922.0,760.59 C920.7,760.6 919.3,760.6 918.0,760.64 C916.7,760.7 915.3,760.7 914.0,760.68 C912.7,760.7 911.3,760.7 910.0,760.72 C908.7,760.7 907.3,760.7 906.0,760.74 C904.7,760.7 903.3,760.8 902.0,760.76 C900.7,760.8 899.3,760.8 898.0,760.77 C896.7,760.8 895.3,760.8 894.0,760.77 C892.7,760.8 891.3,760.8 890.0,760.76 C888.7,760.8 887.3,760.8 886.0,760.75 C884.7,760.7 883.3,760.7 882.0,760.74 C880.7,760.7 879.3,760.7 878.0,760.71 C876.7,760.7 875.3,760.7 874.0,760.69 C872.7,760.7 871.3,760.7 870.0,760.66 C868.7,760.6 867.3,760.6 866.0,760.62 C864.7,760.6 863.3,760.6 862.0,760.58 C860.7,760.6 859.3,760.6 858.0,760.54 C856.7,760.5 855.3,760.5 854.0,760.5 C852.7,760.5 851.3,760.5 850.0,760.45 C848.7,760.4 847.3,760.4 846.0,760.41 C844.7,760.4 843.3,760.4 842.0,760.36 C840.7,760.3 839.3,760.3 838.0,760.31 C836.7,760.3 835.3,760.3 834.0,760.27 C832.7,760.3 831.3,760.2 830.0,760.22 C828.7,760.2 827.3,760.2 826.0,760.17 C824.7,760.2 823.3,760.1 822.0,760.13 C820.7,760.1 819.3,760.1 818.0,760.09 C816.7,760.1 815.3,760.1 814.0,760.05 C812.7,760.0 811.3,760.0 810.0,760.01 C808.7,760.0 807.3,760.0 806.0,759.98 C804.7,760.0 803.3,760.0 802.0,759.95 C800.7,759.9 799.3,759.9 798.0,759.93 C796.7,759.9 795.3,759.9 794.0,759.91 C792.7,759.9 791.3,759.9 790.0,759.9 C788.7,759.9 787.3,759.9 786.0,759.89 C784.7,759.9 783.3,759.9 782.0,759.89 C780.7,759.9 779.3,759.9 778.0,759.89 C776.7,759.9 775.3,759.9 774.0,759.9 C772.7,759.9 771.3,759.9 770.0,759.91 C768.7,759.9 767.3,759.9 766.0,759.93 C764.7,759.9 763.3,759.9 762.0,759.95 C760.7,760.0 759.3,760.0 758.0,759.98 C756.7,760.0 755.3,760.0 754.0,760.01 C752.7,760.0 751.3,760.0 750.0,760.04 C748.7,760.1 747.3,760.1 746.0,760.08 C744.7,760.1 743.3,760.1 742.0,760.12 C740.7,760.1 739.3,760.1 738.0,760.16 C736.7,760.2 735.3,760.2 734.0,760.21 C732.7,760.2 731.3,760.2 730.0,760.25 C728.7,760.3 727.3,760.3 726.0,760.3 C724.7,760.3 723.3,760.3 722.0,760.35 C720.7,760.4 719.3,760.4 718.0,760.41 C716.7,760.4 715.3,760.4 714.0,760.46 C712.7,760.5 711.3,760.5 710.0,760.52 C708.7,760.5 707.3,760.6 706.0,760.58 C704.7,760.6 703.3,760.6 702.0,760.64 C700.7,760.7 699.3,760.7 698.0,760.69 C696.7,760.7 695.3,760.7 694.0,760.75 C692.7,760.8 691.3,760.8 690.0,760.81 C688.7,760.8 687.3,760.9 686.0,760.87 C684.7,760.9 683.3,760.9 682.0,760.93 C680.7,760.9 679.3,761.0 678.0,760.99 C676.7,761.0 675.3,761.0 674.0,761.04 C672.7,761.1 671.3,761.1 670.0,761.1 C668.7,761.1 667.3,761.1 666.0,761.16 C664.7,761.2 663.3,761.2 662.0,761.21 C660.7,761.2 659.3,761.2 658.0,761.26 C656.7,761.3 655.3,761.3 654.0,761.32 C652.7,761.3 651.3,761.4 650.0,761.37 C648.7,761.4 647.3,761.4 646.0,761.41 C644.7,761.4 643.3,761.4 642.0,761.46 C640.7,761.5 639.3,761.5 638.0,761.5 C636.7,761.5 635.3,761.5 634.0,761.54 C632.7,761.6 631.3,761.6 630.0,761.58 C628.7,761.6 627.3,761.6 626.0,761.62 C624.7,761.6 623.3,761.6 622.0,761.65 C620.7,761.7 619.3,761.7 618.0,761.68 C616.7,761.7 615.3,761.7 614.0,761.71 C612.7,761.7 611.3,761.7 610.0,761.74 C608.7,761.7 607.3,761.8 606.0,761.76 C604.7,761.8 603.3,761.8 602.0,761.77 C600.7,761.8 599.3,761.8 598.0,761.79 C596.7,761.8 595.3,761.8 594.0,761.8 C592.7,761.8 591.3,761.8 590.0,761.8 C588.7,761.8 587.3,761.8 586.0,761.8 C584.7,761.8 583.3,761.8 582.0,761.8 C580.7,761.8 579.3,761.8 578.0,761.79 C576.7,761.8 575.3,761.8 574.0,761.78 C572.7,761.8 571.3,761.8 570.0,761.76 C568.7,761.8 567.3,761.8 566.0,761.75 C564.7,761.7 563.3,761.7 562.0,761.72 C560.7,761.7 559.3,761.7 558.0,761.7 C556.7,761.7 555.3,761.7 554.0,761.68 C552.7,761.7 551.3,761.7 550.0,761.65 C548.7,761.6 547.3,761.6 546.0,761.63 C544.7,761.6 543.3,761.6 542.0,761.61 C540.7,761.6 539.3,761.6 538.0,761.59 C536.7,761.6 535.3,761.6 534.0,761.57 C532.7,761.6 531.3,761.6 530.0,761.56 C528.7,761.6 527.3,761.6 526.0,761.55 C524.7,761.5 523.3,761.5 522.0,761.55 C520.7,761.5 519.3,761.5 518.0,761.55 C516.7,761.6 515.3,761.6 514.0,761.57 C512.7,761.6 511.3,761.6 510.0,761.58 C508.7,761.6 507.3,761.6 506.0,761.61 C504.7,761.6 503.3,761.6 502.0,761.64 C500.7,761.7 499.3,761.7 498.0,761.68 C496.7,761.7 495.3,761.7 494.0,761.73 C492.7,761.7 491.3,761.8 490.0,761.78 C488.7,761.8 487.3,761.8 486.0,761.83 C484.7,761.8 483.3,761.9 482.0,761.88 C480.7,761.9 479.3,761.9 478.0,761.94 C476.7,762.0 475.3,762.0 474.0,762.01 C472.7,762.0 471.3,762.1 470.0,762.07 C468.7,762.1 467.3,762.1 466.0,762.13 C464.7,762.2 463.3,762.2 462.0,762.2 C460.7,762.2 459.3,762.2 458.0,762.27 C456.7,762.3 455.3,762.3 454.0,762.33 C452.7,762.4 451.3,762.4 450.0,762.39 C448.7,762.4 447.3,762.4 446.0,762.46 C444.7,762.5 443.3,762.5 442.0,762.52 C440.7,762.5 439.3,762.6 438.0,762.57 C436.7,762.6 435.3,762.6 434.0,762.63 C432.7,762.6 431.3,762.7 430.0,762.68 C428.7,762.7 427.3,762.7 426.0,762.72 C424.7,762.7 423.3,762.8 422.0,762.77 C420.7,762.8 419.3,762.8 418.0,762.8 C416.7,762.8 415.3,762.8 414.0,762.83 C412.7,762.8 411.3,762.8 410.0,762.85 C408.7,762.9 407.3,762.9 406.0,762.86 C404.7,762.9 403.3,762.9 402.0,762.87 C400.7,762.9 399.3,762.9 398.0,762.87 C396.7,762.9 395.3,762.9 394.0,762.86 C392.7,762.9 391.3,762.8 390.0,762.84 C388.7,762.8 387.3,762.8 386.0,762.82 C384.7,762.8 383.3,762.8 382.0,762.78 C380.7,762.8 379.3,762.8 378.0,762.75 C376.7,762.7 375.3,762.7 374.0,762.71 C372.7,762.7 371.3,762.7 370.0,762.66 C368.7,762.6 367.3,762.6 366.0,762.61 C364.7,762.6 363.3,762.6 362.0,762.55 C360.7,762.5 359.3,762.5 358.0,762.49 C356.7,762.5 355.3,762.4 354.0,762.43 C352.7,762.4 351.3,762.4 350.0,762.37 C348.7,762.4 347.3,762.3 346.0,762.31 C344.7,762.3 343.3,762.3 342.0,762.24 C340.7,762.2 339.3,762.2 338.0,762.17 C336.7,762.1 335.3,762.1 334.0,762.11 C332.7,762.1 331.3,762.1 330.0,762.04 C328.7,762.0 327.3,762.0 326.0,761.98 C324.7,762.0 323.3,761.9 322.0,761.91 C320.7,761.9 319.3,761.9 318.0,761.85 C316.7,761.8 315.3,761.8 314.0,761.79 C312.7,761.8 311.3,761.8 310.0,761.74 C308.7,761.7 307.3,761.7 306.0,761.68 C304.7,761.7 303.3,761.7 302.0,761.64 C300.7,761.6 299.3,761.6 298.0,761.59 C296.7,761.6 295.3,761.6 294.0,761.55 C292.7,761.5 291.3,761.5 290.0,761.52 C288.7,761.5 287.3,761.5 286.0,761.5 C284.7,761.5 283.3,761.5 282.0,761.48 C280.7,761.5 279.3,761.5 278.0,761.47 C276.7,761.5 275.3,761.5 274.0,761.46 C272.7,761.5 271.3,761.5 270.0,761.47 C268.7,761.5 267.3,761.5 266.0,761.48 C264.7,761.5 263.3,761.5 262.0,761.5 C260.7,761.5 259.3,761.5 258.0,761.53 C256.7,761.5 255.3,761.5 254.0,761.56 C252.7,761.6 251.3,761.6 250.0,761.6 C248.7,761.6 247.3,761.6 246.0,761.64 C244.7,761.7 243.3,761.7 242.0,761.68 C240.7,761.7 239.3,761.7 238.0,761.73 C236.7,761.7 235.3,761.8 234.0,761.78 C232.7,761.8 231.3,761.8 230.0,761.83 C228.7,761.8 227.3,761.9 226.0,761.88 C224.7,761.9 223.3,761.9 222.0,761.93 C220.7,761.9 219.3,762.0 218.0,761.98 C216.7,762.0 215.3,762.0 214.0,762.03 C212.7,762.0 211.3,762.1 210.0,762.07 C208.7,762.1 207.3,762.1 206.0,762.11 C204.7,762.1 203.3,762.1 202.0,762.14 C200.7,762.1 199.3,762.2 198.0,762.17 C196.7,762.2 195.3,762.2 194.0,762.19 C192.7,762.2 191.3,762.2 190.0,762.21 C188.7,762.2 187.3,762.2 186.0,762.22 C184.7,762.2 183.3,762.2 182.0,762.21 C180.7,762.2 179.3,762.2 178.0,762.2 C176.7,762.2 175.3,762.2 174.0,762.18 C172.7,762.2 171.3,762.2 170.0,762.15 C168.7,762.1 167.3,762.1 166.0,762.1 C164.7,762.1 163.3,762.1 162.0,762.05 C160.7,762.0 159.3,762.0 158.0,761.97 C156.7,761.9 155.3,761.9 154.0,761.89 C152.7,761.9 150.7,761.8 150.0,761.79 Z" fill="#e96a84"/>
  <path d="M150.0,761.79 C150.7,761.8 152.7,761.9 154.0,761.89 C155.3,761.9 156.7,761.9 158.0,761.97 C159.3,762.0 160.7,762.0 162.0,762.05 C163.3,762.1 164.7,762.1 166.0,762.1 C167.3,762.1 168.7,762.1 170.0,762.15 C171.3,762.2 172.7,762.2 174.0,762.18 C175.3,762.2 176.7,762.2 178.0,762.2 C179.3,762.2 180.7,762.2 182.0,762.21 C183.3,762.2 184.7,762.2 186.0,762.22 C187.3,762.2 188.7,762.2 190.0,762.21 C191.3,762.2 192.7,762.2 194.0,762.19 C195.3,762.2 196.7,762.2 198.0,762.17 C199.3,762.2 200.7,762.1 202.0,762.14 C203.3,762.1 204.7,762.1 206.0,762.11 C207.3,762.1 208.7,762.1 210.0,762.07 C211.3,762.1 212.7,762.0 214.0,762.03 C215.3,762.0 216.7,762.0 218.0,761.98 C219.3,762.0 220.7,761.9 222.0,761.93 C223.3,761.9 224.7,761.9 226.0,761.88 C227.3,761.9 228.7,761.8 230.0,761.83 C231.3,761.8 232.7,761.8 234.0,761.78 C235.3,761.8 236.7,761.7 238.0,761.73 C239.3,761.7 240.7,761.7 242.0,761.68 C243.3,761.7 244.7,761.7 246.0,761.64 C247.3,761.6 248.7,761.6 250.0,761.6 C251.3,761.6 252.7,761.6 254.0,761.56 C255.3,761.5 256.7,761.5 258.0,761.53 C259.3,761.5 260.7,761.5 262.0,761.5 C263.3,761.5 264.7,761.5 266.0,761.48 C267.3,761.5 268.7,761.5 270.0,761.47 C271.3,761.5 272.7,761.5 274.0,761.46 C275.3,761.5 276.7,761.5 278.0,761.47 C279.3,761.5 280.7,761.5 282.0,761.48 C283.3,761.5 284.7,761.5 286.0,761.5 C287.3,761.5 288.7,761.5 290.0,761.52 C291.3,761.5 292.7,761.5 294.0,761.55 C295.3,761.6 296.7,761.6 298.0,761.59 C299.3,761.6 300.7,761.6 302.0,761.64 C303.3,761.7 304.7,761.7 306.0,761.68 C307.3,761.7 308.7,761.7 310.0,761.74 C311.3,761.8 312.7,761.8 314.0,761.79 C315.3,761.8 316.7,761.8 318.0,761.85 C319.3,761.9 320.7,761.9 322.0,761.91 C323.3,761.9 324.7,762.0 326.0,761.98 C327.3,762.0 328.7,762.0 330.0,762.04 C331.3,762.1 332.7,762.1 334.0,762.11 C335.3,762.1 336.7,762.1 338.0,762.17 C339.3,762.2 340.7,762.2 342.0,762.24 C343.3,762.3 344.7,762.3 346.0,762.31 C347.3,762.3 348.7,762.4 350.0,762.37 C351.3,762.4 352.7,762.4 354.0,762.43 C355.3,762.4 356.7,762.5 358.0,762.49 C359.3,762.5 360.7,762.5 362.0,762.55 C363.3,762.6 364.7,762.6 366.0,762.61 C367.3,762.6 368.7,762.6 370.0,762.66 C371.3,762.7 372.7,762.7 374.0,762.71 C375.3,762.7 376.7,762.7 378.0,762.75 C379.3,762.8 380.7,762.8 382.0,762.78 C383.3,762.8 384.7,762.8 386.0,762.82 C387.3,762.8 388.7,762.8 390.0,762.84 C391.3,762.8 392.7,762.9 394.0,762.86 C395.3,762.9 396.7,762.9 398.0,762.87 C399.3,762.9 400.7,762.9 402.0,762.87 C403.3,762.9 404.7,762.9 406.0,762.86 C407.3,762.9 408.7,762.9 410.0,762.85 C411.3,762.8 412.7,762.8 414.0,762.83 C415.3,762.8 416.7,762.8 418.0,762.8 C419.3,762.8 420.7,762.8 422.0,762.77 C423.3,762.8 424.7,762.7 426.0,762.72 C427.3,762.7 428.7,762.7 430.0,762.68 C431.3,762.7 432.7,762.6 434.0,762.63 C435.3,762.6 436.7,762.6 438.0,762.57 C439.3,762.6 440.7,762.5 442.0,762.52 C443.3,762.5 444.7,762.5 446.0,762.46 C447.3,762.4 448.7,762.4 450.0,762.39 C451.3,762.4 452.7,762.4 454.0,762.33 C455.3,762.3 456.7,762.3 458.0,762.27 C459.3,762.2 460.7,762.2 462.0,762.2 C463.3,762.2 464.7,762.2 466.0,762.13 C467.3,762.1 468.7,762.1 470.0,762.07 C471.3,762.1 472.7,762.0 474.0,762.01 C475.3,762.0 476.7,762.0 478.0,761.94 C479.3,761.9 480.7,761.9 482.0,761.88 C483.3,761.9 484.7,761.8 486.0,761.83 C487.3,761.8 488.7,761.8 490.0,761.78 C491.3,761.8 492.7,761.7 494.0,761.73 C495.3,761.7 496.7,761.7 498.0,761.68 C499.3,761.7 500.7,761.7 502.0,761.64 C503.3,761.6 504.7,761.6 506.0,761.61 C507.3,761.6 508.7,761.6 510.0,761.58 C511.3,761.6 512.7,761.6 514.0,761.57 C515.3,761.6 516.7,761.6 518.0,761.55 C519.3,761.5 520.7,761.5 522.0,761.55 C523.3,761.5 524.7,761.5 526.0,761.55 C527.3,761.6 528.7,761.6 530.0,761.56 C531.3,761.6 532.7,761.6 534.0,761.57 C535.3,761.6 536.7,761.6 538.0,761.59 C539.3,761.6 540.7,761.6 542.0,761.61 C543.3,761.6 544.7,761.6 546.0,761.63 C547.3,761.6 548.7,761.6 550.0,761.65 C551.3,761.7 552.7,761.7 554.0,761.68 C555.3,761.7 556.7,761.7 558.0,761.7 C559.3,761.7 560.7,761.7 562.0,761.72 C563.3,761.7 564.7,761.7 566.0,761.75 C567.3,761.8 568.7,761.8 570.0,761.76 C571.3,761.8 572.7,761.8 574.0,761.78 C575.3,761.8 576.7,761.8 578.0,761.79 C579.3,761.8 580.7,761.8 582.0,761.8 C583.3,761.8 584.7,761.8 586.0,761.8 C587.3,761.8 588.7,761.8 590.0,761.8 C591.3,761.8 592.7,761.8 594.0,761.8 C595.3,761.8 596.7,761.8 598.0,761.79 C599.3,761.8 600.7,761.8 602.0,761.77 C603.3,761.8 604.7,761.8 606.0,761.76 C607.3,761.8 608.7,761.7 610.0,761.74 C611.3,761.7 612.7,761.7 614.0,761.71 C615.3,761.7 616.7,761.7 618.0,761.68 C619.3,761.7 620.7,761.7 622.0,761.65 C623.3,761.6 624.7,761.6 626.0,761.62 C627.3,761.6 628.7,761.6 630.0,761.58 C631.3,761.6 632.7,761.6 634.0,761.54 C635.3,761.5 636.7,761.5 638.0,761.5 C639.3,761.5 640.7,761.5 642.0,761.46 C643.3,761.4 644.7,761.4 646.0,761.41 C647.3,761.4 648.7,761.4 650.0,761.37 C651.3,761.4 652.7,761.3 654.0,761.32 C655.3,761.3 656.7,761.3 658.0,761.26 C659.3,761.2 660.7,761.2 662.0,761.21 C663.3,761.2 664.7,761.2 666.0,761.16 C667.3,761.1 668.7,761.1 670.0,761.1 C671.3,761.1 672.7,761.1 674.0,761.04 C675.3,761.0 676.7,761.0 678.0,760.99 C679.3,761.0 680.7,760.9 682.0,760.93 C683.3,760.9 684.7,760.9 686.0,760.87 C687.3,760.9 688.7,760.8 690.0,760.81 C691.3,760.8 692.7,760.8 694.0,760.75 C695.3,760.7 696.7,760.7 698.0,760.69 C699.3,760.7 700.7,760.7 702.0,760.64 C703.3,760.6 704.7,760.6 706.0,760.58 C707.3,760.6 708.7,760.5 710.0,760.52 C711.3,760.5 712.7,760.5 714.0,760.46 C715.3,760.4 716.7,760.4 718.0,760.41 C719.3,760.4 720.7,760.4 722.0,760.35 C723.3,760.3 724.7,760.3 726.0,760.3 C727.3,760.3 728.7,760.3 730.0,760.25 C731.3,760.2 732.7,760.2 734.0,760.21 C735.3,760.2 736.7,760.2 738.0,760.16 C739.3,760.1 740.7,760.1 742.0,760.12 C743.3,760.1 744.7,760.1 746.0,760.08 C747.3,760.1 748.7,760.1 750.0,760.04 C751.3,760.0 752.7,760.0 754.0,760.01 C755.3,760.0 756.7,760.0 758.0,759.98 C759.3,760.0 760.7,760.0 762.0,759.95 C763.3,759.9 764.7,759.9 766.0,759.93 C767.3,759.9 768.7,759.9 770.0,759.91 C771.3,759.9 772.7,759.9 774.0,759.9 C775.3,759.9 776.7,759.9 778.0,759.89 C779.3,759.9 780.7,759.9 782.0,759.89 C783.3,759.9 784.7,759.9 786.0,759.89 C787.3,759.9 788.7,759.9 790.0,759.9 C791.3,759.9 792.7,759.9 794.0,759.91 C795.3,759.9 796.7,759.9 798.0,759.93 C799.3,759.9 800.7,759.9 802.0,759.95 C803.3,760.0 804.7,760.0 806.0,759.98 C807.3,760.0 808.7,760.0 810.0,760.01 C811.3,760.0 812.7,760.0 814.0,760.05 C815.3,760.1 816.7,760.1 818.0,760.09 C819.3,760.1 820.7,760.1 822.0,760.13 C823.3,760.1 824.7,760.2 826.0,760.17 C827.3,760.2 828.7,760.2 830.0,760.22 C831.3,760.2 832.7,760.3 834.0,760.27 C835.3,760.3 836.7,760.3 838.0,760.31 C839.3,760.3 840.7,760.3 842.0,760.36 C843.3,760.4 844.7,760.4 846.0,760.41 C847.3,760.4 848.7,760.4 850.0,760.45 C851.3,760.5 852.7,760.5 854.0,760.5 C855.3,760.5 856.7,760.5 858.0,760.54 C859.3,760.6 860.7,760.6 862.0,760.58 C863.3,760.6 864.7,760.6 866.0,760.62 C867.3,760.6 868.7,760.6 870.0,760.66 C871.3,760.7 872.7,760.7 874.0,760.69 C875.3,760.7 876.7,760.7 878.0,760.71 C879.3,760.7 880.7,760.7 882.0,760.74 C883.3,760.7 884.7,760.7 886.0,760.75 C887.3,760.8 888.7,760.8 890.0,760.76 C891.3,760.8 892.7,760.8 894.0,760.77 C895.3,760.8 896.7,760.8 898.0,760.77 C899.3,760.8 900.7,760.8 902.0,760.76 C903.3,760.8 904.7,760.7 906.0,760.74 C907.3,760.7 908.7,760.7 910.0,760.72 C911.3,760.7 912.7,760.7 914.0,760.68 C915.3,760.7 916.7,760.7 918.0,760.64 C919.3,760.6 920.7,760.6 922.0,760.59 C923.3,760.6 924.7,760.5 926.0,760.52 C927.3,760.5 928.7,760.5 930.0,760.45 C931.3,760.4 932.7,760.4 934.0,760.37 C935.3,760.3 936.7,760.3 938.0,760.27 C939.3,760.2 940.7,760.2 942.0,760.16 C943.3,760.1 944.7,760.1 946.0,760.04 C947.3,760.0 948.7,760.0 950.0,759.91 C951.3,759.9 952.7,759.8 954.0,759.76 C955.3,759.7 956.7,759.7 958.0,759.6 C959.3,759.5 960.7,759.5 962.0,759.42 C963.3,759.4 964.7,759.3 966.0,759.23 C967.3,759.2 968.7,759.1 970.0,759.03 C971.3,759.0 972.7,758.9 974.0,758.8 C975.3,758.7 976.7,758.7 978.0,758.57 C979.3,758.5 980.7,758.4 982.0,758.31 C983.3,758.2 985.3,758.1 986.0,758.04 L986.0,787.7 L150.0,787.7 Z" fill="#faa855"/>
  <path d="M150.0,627.73 C150.7,627.8 152.7,628.2 154.0,628.43 C155.3,628.6 156.7,628.8 158.0,629.03 C159.3,629.2 160.7,629.4 162.0,629.52 C163.3,629.7 164.7,629.8 166.0,629.92 C167.3,630.0 168.7,630.1 170.0,630.23 C171.3,630.3 172.7,630.4 174.0,630.46 C175.3,630.5 176.7,630.6 178.0,630.61 C179.3,630.6 180.7,630.7 182.0,630.7 C183.3,630.7 184.7,630.7 186.0,630.71 C187.3,630.7 188.7,630.7 190.0,630.67 C191.3,630.6 192.7,630.6 194.0,630.58 C195.3,630.5 196.7,630.5 198.0,630.44 C199.3,630.4 200.7,630.3 202.0,630.26 C203.3,630.2 204.7,630.1 206.0,630.05 C207.3,630.0 208.7,629.9 210.0,629.8 C211.3,629.7 212.7,629.6 214.0,629.54 C215.3,629.4 216.7,629.4 218.0,629.26 C219.3,629.2 220.7,629.1 222.0,628.98 C223.3,628.9 224.7,628.8 226.0,628.69 C227.3,628.6 228.7,628.5 230.0,628.4 C231.3,628.3 232.7,628.2 234.0,628.12 C235.3,628.0 236.7,627.9 238.0,627.86 C239.3,627.8 240.7,627.7 242.0,627.62 C243.3,627.5 244.7,627.5 246.0,627.41 C247.3,627.3 248.7,627.3 250.0,627.23 C251.3,627.2 252.7,627.1 254.0,627.07 C255.3,627.0 256.7,627.0 258.0,626.95 C259.3,626.9 260.7,626.9 262.0,626.86 C263.3,626.8 264.7,626.8 266.0,626.79 C267.3,626.8 268.7,626.8 270.0,626.75 C271.3,626.7 272.7,626.7 274.0,626.74 C275.3,626.7 276.7,626.7 278.0,626.76 C279.3,626.8 280.7,626.8 282.0,626.81 C283.3,626.8 284.7,626.9 286.0,626.88 C287.3,626.9 288.7,626.9 290.0,626.98 C291.3,627.0 292.7,627.1 294.0,627.11 C295.3,627.2 296.7,627.2 298.0,627.26 C299.3,627.3 300.7,627.4 302.0,627.44 C303.3,627.5 304.7,627.6 306.0,627.64 C307.3,627.7 308.7,627.8 310.0,627.87 C311.3,628.0 312.7,628.0 314.0,628.12 C315.3,628.2 316.7,628.3 318.0,628.4 C319.3,628.5 320.7,628.6 322.0,628.7 C323.3,628.8 324.7,628.9 326.0,629.03 C327.3,629.1 328.7,629.3 330.0,629.38 C331.3,629.5 332.7,629.6 334.0,629.75 C335.3,629.9 336.7,630.0 338.0,630.14 C339.3,630.3 340.7,630.4 342.0,630.56 C343.3,630.7 344.7,630.9 346.0,631.0 C347.3,631.1 348.7,631.3 350.0,631.45 C351.3,631.6 352.7,631.8 354.0,631.92 C355.3,632.1 356.7,632.2 358.0,632.39 C359.3,632.5 360.7,632.7 362.0,632.85 C363.3,633.0 364.7,633.2 366.0,633.3 C367.3,633.4 368.7,633.6 370.0,633.74 C371.3,633.9 372.7,634.0 374.0,634.16 C375.3,634.3 376.7,634.4 378.0,634.54 C379.3,634.7 380.7,634.8 382.0,634.89 C383.3,635.0 384.7,635.1 386.0,635.19 C387.3,635.3 388.7,635.4 390.0,635.45 C391.3,635.5 392.7,635.6 394.0,635.64 C395.3,635.7 396.7,635.7 398.0,635.78 C399.3,635.8 400.7,635.8 402.0,635.85 C403.3,635.9 404.7,635.9 406.0,635.84 C407.3,635.8 408.7,635.8 410.0,635.76 C411.3,635.7 412.7,635.7 414.0,635.61 C415.3,635.6 416.7,635.5 418.0,635.41 C419.3,635.3 420.7,635.2 422.0,635.15 C423.3,635.1 424.7,634.9 426.0,634.84 C427.3,634.7 428.7,634.6 430.0,634.5 C431.3,634.4 432.7,634.2 434.0,634.11 C435.3,634.0 436.7,633.8 438.0,633.7 C439.3,633.6 440.7,633.4 442.0,633.26 C443.3,633.1 444.7,633.0 446.0,632.8 C447.3,632.6 448.7,632.5 450.0,632.33 C451.3,632.2 452.7,632.0 454.0,631.85 C455.3,631.7 456.7,631.5 458.0,631.37 C459.3,631.2 460.7,631.0 462.0,630.89 C463.3,630.7 464.7,630.6 466.0,630.43 C467.3,630.3 468.7,630.1 470.0,629.98 C471.3,629.8 472.7,629.7 474.0,629.54 C475.3,629.4 476.7,629.3 478.0,629.13 C479.3,629.0 480.7,628.9 482.0,628.73 C483.3,628.6 484.7,628.5 486.0,628.35 C487.3,628.2 488.7,628.1 490.0,628.0 C491.3,627.9 492.7,627.8 494.0,627.67 C495.3,627.6 496.7,627.5 498.0,627.36 C499.3,627.3 500.7,627.2 502.0,627.07 C503.3,627.0 504.7,626.9 506.0,626.81 C507.3,626.7 508.7,626.7 510.0,626.58 C511.3,626.5 512.7,626.4 514.0,626.38 C515.3,626.3 516.7,626.3 518.0,626.21 C519.3,626.2 520.7,626.1 522.0,626.06 C523.3,626.0 524.7,626.0 526.0,625.95 C527.3,625.9 528.7,625.9 530.0,625.87 C531.3,625.8 532.7,625.8 534.0,625.82 C535.3,625.8 536.7,625.8 538.0,625.81 C539.3,625.8 540.7,625.8 542.0,625.84 C543.3,625.9 544.7,625.9 546.0,625.9 C547.3,625.9 548.7,626.0 550.0,626.0 C551.3,626.0 552.7,626.1 554.0,626.14 C555.3,626.2 556.7,626.3 558.0,626.32 C559.3,626.4 560.7,626.5 562.0,626.54 C563.3,626.6 564.7,626.7 566.0,626.79 C567.3,626.9 568.7,627.0 570.0,627.07 C571.3,627.2 572.7,627.3 574.0,627.37 C575.3,627.5 576.7,627.6 578.0,627.67 C579.3,627.8 580.7,627.9 582.0,627.98 C583.3,628.1 584.7,628.2 586.0,628.29 C587.3,628.4 588.7,628.5 590.0,628.58 C591.3,628.7 592.7,628.8 594.0,628.85 C595.3,628.9 596.7,629.0 598.0,629.09 C599.3,629.2 600.7,629.2 602.0,629.3 C603.3,629.4 604.7,629.4 606.0,629.46 C607.3,629.5 608.7,629.5 610.0,629.57 C611.3,629.6 612.7,629.6 614.0,629.63 C615.3,629.6 616.7,629.6 618.0,629.63 C619.3,629.6 620.7,629.6 622.0,629.58 C623.3,629.6 624.7,629.5 626.0,629.48 C627.3,629.4 628.7,629.4 630.0,629.33 C631.3,629.3 632.7,629.2 634.0,629.13 C635.3,629.1 636.7,629.0 638.0,628.89 C639.3,628.8 640.7,628.7 642.0,628.61 C643.3,628.5 644.7,628.4 646.0,628.3 C647.3,628.2 648.7,628.1 650.0,627.95 C651.3,627.8 652.7,627.7 654.0,627.57 C655.3,627.4 656.7,627.3 658.0,627.17 C659.3,627.0 660.7,626.9 662.0,626.73 C663.3,626.6 664.7,626.4 666.0,626.28 C667.3,626.1 668.7,626.0 670.0,625.8 C671.3,625.6 672.7,625.5 674.0,625.31 C675.3,625.1 676.7,625.0 678.0,624.81 C679.3,624.6 680.7,624.5 682.0,624.29 C683.3,624.1 684.7,623.9 686.0,623.76 C687.3,623.6 688.7,623.4 690.0,623.23 C691.3,623.1 692.7,622.9 694.0,622.71 C695.3,622.5 696.7,622.4 698.0,622.19 C699.3,622.0 700.7,621.8 702.0,621.68 C703.3,621.5 704.7,621.3 706.0,621.18 C707.3,621.0 708.7,620.9 710.0,620.71 C711.3,620.6 712.7,620.4 714.0,620.26 C715.3,620.1 716.7,620.0 718.0,619.84 C719.3,619.7 720.7,619.6 722.0,619.45 C723.3,619.3 724.7,619.2 726.0,619.11 C727.3,619.0 728.7,618.9 730.0,618.81 C731.3,618.7 732.7,618.6 734.0,618.55 C735.3,618.5 736.7,618.4 738.0,618.35 C739.3,618.3 740.7,618.2 742.0,618.21 C743.3,618.2 744.7,618.1 746.0,618.13 C747.3,618.1 748.7,618.1 750.0,618.12 C751.3,618.1 752.7,618.1 754.0,618.15 C755.3,618.2 756.7,618.2 758.0,618.23 C759.3,618.3 760.7,618.3 762.0,618.34 C763.3,618.4 764.7,618.4 766.0,618.48 C767.3,618.5 768.7,618.6 770.0,618.64 C771.3,618.7 772.7,618.7 774.0,618.8 C775.3,618.9 776.7,618.9 778.0,618.97 C779.3,619.0 780.7,619.1 782.0,619.13 C783.3,619.2 784.7,619.2 786.0,619.3 C787.3,619.4 788.7,619.4 790.0,619.47 C791.3,619.5 792.7,619.6 794.0,619.63 C795.3,619.7 796.7,619.7 798.0,619.8 C799.3,619.9 800.7,619.9 802.0,619.96 C803.3,620.0 804.7,620.1 806.0,620.12 C807.3,620.2 808.7,620.2 810.0,620.27 C811.3,620.3 812.7,620.4 814.0,620.42 C815.3,620.5 816.7,620.5 818.0,620.57 C819.3,620.6 820.7,620.7 822.0,620.7 C823.3,620.7 824.7,620.8 826.0,620.83 C827.3,620.9 828.7,620.9 830.0,620.96 C831.3,621.0 832.7,621.0 834.0,621.07 C835.3,621.1 836.7,621.1 838.0,621.17 C839.3,621.2 840.7,621.2 842.0,621.26 C843.3,621.3 844.7,621.3 846.0,621.34 C847.3,621.4 848.7,621.4 850.0,621.41 C851.3,621.4 852.7,621.5 854.0,621.47 C855.3,621.5 856.7,621.5 858.0,621.51 C859.3,621.5 860.7,621.5 862.0,621.53 C863.3,621.5 864.7,621.5 866.0,621.54 C867.3,621.5 868.7,621.5 870.0,621.54 C871.3,621.5 872.7,621.5 874.0,621.52 C875.3,621.5 876.7,621.5 878.0,621.48 C879.3,621.5 880.7,621.4 882.0,621.42 C883.3,621.4 884.7,621.4 886.0,621.34 C887.3,621.3 888.7,621.3 890.0,621.24 C891.3,621.2 892.7,621.2 894.0,621.13 C895.3,621.1 896.7,621.0 898.0,620.98 C899.3,620.9 900.7,620.9 902.0,620.82 C903.3,620.8 904.7,620.7 906.0,620.63 C907.3,620.6 908.7,620.5 910.0,620.42 C911.3,620.3 912.7,620.3 914.0,620.19 C915.3,620.1 916.7,620.0 918.0,619.93 C919.3,619.8 920.7,619.7 922.0,619.64 C923.3,619.5 924.7,619.4 926.0,619.32 C927.3,619.2 928.7,619.1 930.0,618.98 C931.3,618.9 932.7,618.7 934.0,618.61 C935.3,618.5 936.7,618.3 938.0,618.2 C939.3,618.1 940.7,617.9 942.0,617.77 C943.3,617.6 944.7,617.5 946.0,617.31 C947.3,617.1 948.7,617.0 950.0,616.81 C951.3,616.6 952.7,616.5 954.0,616.28 C955.3,616.1 956.7,615.9 958.0,615.72 C959.3,615.5 960.7,615.3 962.0,615.12 C963.3,614.9 964.7,614.7 966.0,614.49 C967.3,614.3 968.7,614.1 970.0,613.82 C971.3,613.6 972.7,613.4 974.0,613.11 C975.3,612.9 976.7,612.6 978.0,612.37 C979.3,612.1 980.7,611.9 982.0,611.59 C983.3,611.3 985.3,610.9 986.0,610.76" fill="none" stroke="#6c5cf0" stroke-width="3"/>
</svg>
<!-- right panel -->
<div class="abs" style="left:1069px;top:55px;width:1px;height:170px;background:linear-gradient(#e2e2e8,#e8e8ee 50%,rgba(232,232,238,0))"></div>
<div class="abs" style="left:1068.8px;top:223.5px;width:1.4px;height:52.5px;background:#7463f5"></div>
<div class="card" style="left:1074px;top:119px;width:439px;height:138px"></div>
<div class="card" style="left:1074px;top:286px;width:439px;height:139px"></div>
<div class="card" style="left:1074px;top:454px;width:439px;height:137px"></div>
<div class="card" style="left:1074px;top:621px;width:439px;height:139px"></div>
<svg class="abs" style="left:1086.3px;top:307.0px" width="40" height="40" viewBox="0 0 40 40">
<path d="M20,7.9 Q17.1,16.1 16.6,16.6 Q16.1,17.1 7.9,20 Q16.1,22.9 16.6,23.4 Q17.1,23.9 20,32.1 Q22.9,23.9 23.4,23.4 Q23.9,22.9 32.1,20 Q23.9,17.1 23.4,16.6 Q22.9,16.1 20,7.9 Z" fill="#7865f8" stroke="#7865f8" stroke-width="3" stroke-linejoin="round"/>
<path d="M29,1.4999999999999991 v8.4 M24.8,5.699999999999999 h8.4" stroke="#7865f8" stroke-width="1.9" stroke-linecap="butt"/>
<path d="M35.6,9.100000000000001 v6.4 M32.4,12.3 h6.4" stroke="#7865f8" stroke-width="1.8" stroke-linecap="butt"/>
</svg>
<svg class="abs" style="left:1086.3px;top:475.5px" width="40" height="40" viewBox="0 0 40 40">
<path d="M20,7.9 Q17.1,16.1 16.6,16.6 Q16.1,17.1 7.9,20 Q16.1,22.9 16.6,23.4 Q17.1,23.9 20,32.1 Q22.9,23.9 23.4,23.4 Q23.9,22.9 32.1,20 Q23.9,17.1 23.4,16.6 Q22.9,16.1 20,7.9 Z" fill="#7865f8" stroke="#7865f8" stroke-width="3" stroke-linejoin="round"/>
<path d="M29,1.4999999999999991 v8.4 M24.8,5.699999999999999 h8.4" stroke="#7865f8" stroke-width="1.9" stroke-linecap="butt"/>
<path d="M35.6,9.100000000000001 v6.4 M32.4,12.3 h6.4" stroke="#7865f8" stroke-width="1.8" stroke-linecap="butt"/>
</svg>
<svg class="abs" style="left:1086.3px;top:643.0px" width="40" height="40" viewBox="0 0 40 40">
<path d="M20,7.9 Q17.1,16.1 16.6,16.6 Q16.1,17.1 7.9,20 Q16.1,22.9 16.6,23.4 Q17.1,23.9 20,32.1 Q22.9,23.9 23.4,23.4 Q23.9,22.9 32.1,20 Q23.9,17.1 23.4,16.6 Q22.9,16.1 20,7.9 Z" fill="#7865f8" stroke="#7865f8" stroke-width="3" stroke-linejoin="round"/>
<path d="M29,1.4999999999999991 v8.4 M24.8,5.699999999999999 h8.4" stroke="#7865f8" stroke-width="1.9" stroke-linecap="butt"/>
<path d="M35.6,9.100000000000001 v6.4 M32.4,12.3 h6.4" stroke="#7865f8" stroke-width="1.8" stroke-linecap="butt"/>
</svg>
<div class="abs" style="left:1072.6px;top:788px;width:436.4px;height:47px;border:2.2px solid #7462f6;border-radius:7px;box-shadow:0 5px 10px rgba(40,40,110,0.04)"></div>
<div class="t" style="left:244.50px;top:67.28px;font-size:33.21px;font-weight:700;color:#13104c;letter-spacing:0.333px">Marketing data governance</div>
<div class="t" style="left:57.10px;top:142.13px;font-size:20.76px;font-weight:700;color:#13104c;letter-spacing:0.500px">Overview</div>
<div class="t" style="left:74.80px;top:199.87px;font-size:37.36px;font-weight:700;color:#13104c;letter-spacing:-0.150px">374</div>
<div class="t" style="left:180.90px;top:209.38px;font-size:18.68px;font-weight:400;color:#2c9f45;letter-spacing:0.050px;-webkit-text-stroke:0.35px #2c9f45">350</div>
<div class="t" style="left:253.20px;top:209.38px;font-size:18.68px;font-weight:400;color:#ee9a1e;letter-spacing:-0.200px;-webkit-text-stroke:0.35px #ee9a1e">24</div>
<div class="t" style="left:74.80px;top:247.78px;font-size:18.68px;font-weight:700;color:#13104c;letter-spacing:0.050px">Campaigns</div>
<div class="t" style="left:402.60px;top:199.37px;font-size:37.36px;font-weight:700;color:#13104c;letter-spacing:0.000px;transform:scaleX(0.9890);transform-origin:1px 0">88%</div>
<div class="t" style="left:481.60px;top:202.26px;font-size:17.64px;font-weight:400;color:#ee9a1d;letter-spacing:0.550px;-webkit-text-stroke:0.35px #ee9a1d">-5%</div>
<div class="t" style="left:402.60px;top:247.78px;font-size:18.68px;font-weight:700;color:#13104c;letter-spacing:0.436px">Overall campaign health</div>
<div class="t" style="left:730.30px;top:197.77px;font-size:37.36px;font-weight:700;color:#13104c;letter-spacing:0.117px">$235.9k</div>
<div class="t" style="left:872.60px;top:199.62px;font-size:18.16px;font-weight:400;color:#ee9a1d;letter-spacing:0.000px;transform:scaleX(1.0510);transform-origin:1px 0;-webkit-text-stroke:0.35px #ee9a1d">+$30k</div>
<div class="t" style="left:730.30px;top:245.78px;font-size:18.68px;font-weight:700;color:#13104c;letter-spacing:0.108px">Budget affected by issues</div>
<div class="t" style="left:57.00px;top:320.13px;font-size:20.76px;font-weight:700;color:#13104c;letter-spacing:0.000px;transform:scaleX(0.9794);transform-origin:1px 0">Issues</div>
<div class="t" style="left:114.50px;top:374.97px;font-size:37.36px;font-weight:700;color:#ee9a1d;letter-spacing:0.100px">17</div>
<div class="t" style="left:74.90px;top:423.28px;font-size:18.68px;font-weight:700;color:#13104c;letter-spacing:0.336px">Campaigns with Inconsistent naming</div>
<div class="t" style="left:603.60px;top:373.57px;font-size:37.36px;font-weight:700;color:#ee9a1d;letter-spacing:0.000px">7</div>
<div class="t" style="left:566.00px;top:420.98px;font-size:18.68px;font-weight:700;color:#13104c;letter-spacing:0.182px">Campaigns misaligned UTM standards</div>
<div class="t" style="left:84.10px;top:514.45px;font-size:20.96px;font-weight:700;color:#13104c;letter-spacing:0.243px">Financial impact of data issues</div>
<div class="t" style="left:97.00px;top:551.68px;font-size:16.09px;font-weight:400;color:#8a78f7;letter-spacing:0.453px">Effective budget</div>
<div class="t" style="left:251.50px;top:551.68px;font-size:16.09px;font-weight:400;color:#e2637c;letter-spacing:0.225px">Wested budget</div>
<div class="t" style="left:393.90px;top:551.68px;font-size:16.09px;font-weight:400;color:#f2a455;letter-spacing:0.200px">Recoverable budget</div>
<div class="t" style="left:83.60px;top:595.88px;font-size:13.49px;font-weight:400;color:#8c8ba3;letter-spacing:0.400px">200k</div>
<div class="t" style="left:83.60px;top:642.58px;font-size:13.49px;font-weight:400;color:#8c8ba3;letter-spacing:0.400px">150k</div>
<div class="t" style="left:83.60px;top:689.28px;font-size:13.49px;font-weight:400;color:#8c8ba3;letter-spacing:0.400px">100k</div>
<div class="t" style="left:83.60px;top:736.18px;font-size:13.49px;font-weight:400;color:#8c8ba3;letter-spacing:0.000px">50k</div>
<div class="t" style="left:84.60px;top:782.28px;font-size:13.49px;font-weight:400;color:#8c8ba3;letter-spacing:0.000px">0</div>
<div class="t" style="left:143.90px;top:796.42px;font-size:15.57px;font-weight:400;color:#8c8ba3;letter-spacing:0.000px;transform:scaleX(1.0437);transform-origin:1px 0">29</div>
<div class="t" style="left:275.50px;top:800.42px;font-size:15.57px;font-weight:400;color:#8c8ba3;letter-spacing:0.000px">30</div>
<div class="t" style="left:407.10px;top:800.42px;font-size:15.57px;font-weight:400;color:#8c8ba3;letter-spacing:0.000px">31</div>
<div class="t" style="left:540.00px;top:800.42px;font-size:15.57px;font-weight:400;color:#8c8ba3;letter-spacing:0.000px">32</div>
<div class="t" style="left:670.00px;top:800.42px;font-size:15.57px;font-weight:400;color:#8c8ba3;letter-spacing:0.000px">33</div>
<div class="t" style="left:801.00px;top:800.42px;font-size:15.57px;font-weight:400;color:#8c8ba3;letter-spacing:0.000px">34</div>
<div class="t" style="left:926.70px;top:800.42px;font-size:15.57px;font-weight:400;color:#8c8ba3;letter-spacing:0.000px">35</div>
<div class="t" style="left:1144.20px;top:60.27px;font-size:22.83px;font-weight:700;color:#13104c;letter-spacing:0.825px">Improve your data quality</div>
<div class="t" style="left:1094.60px;top:166.35px;font-size:48.36px;font-weight:700;color:#7464f4;letter-spacing:-0.200px">17%</div>
<div class="t" style="left:1218.70px;top:166.58px;font-size:18.68px;font-weight:700;color:#7464f4;letter-spacing:0.675px">Potential uplift from</div>
<div class="t" style="left:1218.70px;top:190.78px;font-size:18.68px;font-weight:700;color:#7464f4;letter-spacing:0.239px">recommended changes</div>
<div class="t" style="left:1138.70px;top:311.08px;font-size:18.68px;font-weight:700;color:#13104c;letter-spacing:0.150px">Save up to $150k in ad spend by</div>
<div class="t" style="left:1138.70px;top:334.78px;font-size:18.68px;font-weight:700;color:#13104c;letter-spacing:0.209px">adjusting inconsistent naming across</div>
<div class="t" style="left:1138.70px;top:359.88px;font-size:18.68px;font-weight:700;color:#13104c;letter-spacing:0.100px">14 campaigns</div>
<div class="t" style="left:1439.90px;top:378.01px;font-size:24.91px;font-weight:700;color:#2c9f45;letter-spacing:0.000px;transform:scaleX(1.1102);transform-origin:1px 0">+9%</div>
<div class="t" style="left:1138.70px;top:478.78px;font-size:18.68px;font-weight:700;color:#13104c;letter-spacing:0.181px">Fix incorrect UTM tags in 12</div>
<div class="t" style="left:1138.70px;top:502.78px;font-size:18.68px;font-weight:700;color:#13104c;letter-spacing:0.162px">campaigns</div>
<div class="t" style="left:1416.60px;top:543.21px;font-size:24.91px;font-weight:700;color:#2c9f45;letter-spacing:0.000px;transform:scaleX(1.1100);transform-origin:1px 0">+7.5%</div>
<div class="t" style="left:1139.00px;top:646.48px;font-size:18.68px;font-weight:700;color:#13104c;letter-spacing:0.277px">Prevent the loss of $30k by updating</div>
<div class="t" style="left:1139.00px;top:670.88px;font-size:18.68px;font-weight:700;color:#13104c;letter-spacing:0.407px">misaligned data</div>
<div class="t" style="left:1440.00px;top:710.61px;font-size:24.91px;font-weight:700;color:#2c9f45;letter-spacing:0.000px;transform:scaleX(1.1020);transform-origin:1px 0">+5%</div>
<div class="t" style="left:1214.70px;top:804.88px;font-size:18.68px;font-weight:700;color:#7b6cf2;letter-spacing:0.000px;transform:scaleX(0.9337);transform-origin:1px 0">GO TO FIX ISSUES</div>
</body></html>
